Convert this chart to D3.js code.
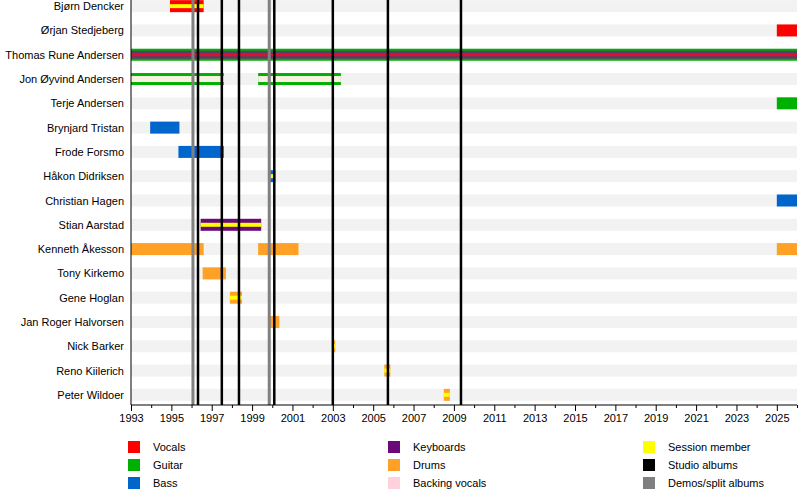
<!DOCTYPE html><html><head><meta charset="utf-8"><script src="https://cdn.jsdelivr.net/npm/d3@7"></script>
<style>body{margin:0;background:#fff}text{font-family:"Liberation Sans",Arial,sans-serif;font-size:11px}</style></head><body><svg width="800" height="500"></svg><script>
const members=["Bjørn Dencker","Ørjan Stedjeberg","Thomas Rune Andersen","Jon Øyvind Andersen","Terje Andersen","Brynjard Tristan","Frode Forsmo","Håkon Didriksen","Christian Hagen","Stian Aarstad","Kenneth Åkesson","Tony Kirkemo","Gene Hoglan","Jan Roger Halvorsen","Nick Barker","Reno Kiilerich","Peter Wildoer"];
const periods=[
["Bjørn Dencker","Vocals",1994.93,1996.6,"session"],
["Ørjan Stedjeberg","Vocals",2025,2026,""],
["Thomas Rune Andersen","Guitar",1993,2026,"thomas"],
["Jon Øyvind Andersen","Guitar",1993,1997.6,"backing"],
["Jon Øyvind Andersen","Guitar",1999.3,2003.4,"backing"],
["Terje Andersen","Guitar",2025,2026,""],
["Brynjard Tristan","Bass",1993.95,1995.4,""],
["Frode Forsmo","Bass",1995.35,1997.6,""],
["Håkon Didriksen","Bass",1999.9,2000.15,"session"],
["Christian Hagen","Bass",2025,2026,""],
["Stian Aarstad","Keyboards",1996.45,1999.45,"session"],
["Kenneth Åkesson","Drums",1993,1996.6,""],
["Kenneth Åkesson","Drums",1999.3,2001.3,""],
["Kenneth Åkesson","Drums",2025,2026,""],
["Tony Kirkemo","Drums",1996.55,1997.7,""],
["Gene Hoglan","Drums",1997.9,1998.5,"session"],
["Jan Roger Halvorsen","Drums",1999.85,2000.35,""],
["Nick Barker","Drums",2003.0,2003.12,"session"],
["Reno Kiilerich","Drums",2005.55,2005.85,"session"],
["Peter Wildoer","Drums",2008.5,2008.8,"session"]];
const studioAlbums=[1996.32,1997.5,1998.35,2000.1,2003.0,2005.73,2009.35];
const demos=[1996.07,1999.85];
const ticks=d3.range(1993,2026,2);
const roles=[["Vocals","#ff0000"],["Guitar","#00b000"],["Bass","#0066cc"],["Keyboards","#6a0a78"],["Drums","#ffa126"],["Backing vocals","#ffd1dc"],["Session member","#ffff00"],["Studio albums","#000000"],["Demos/split albums","#808080"]];
const col=Object.fromEntries(roles);
const svg=d3.select("svg");
const x=d3.scaleLinear().domain([1993,2026]).range([131,797]);
const y=d3.scaleBand().domain(members).range([-6,407]);
const h=12;
svg.append("g").selectAll("rect").data(members).join("rect").attr("x",131).attr("width",666)
 .attr("y",d=>y(d)+y.bandwidth()/2-h/2).attr("height",h).attr("fill","#f2f2f2");
svg.append("g").selectAll("text").data(members).join("text").attr("x",124).attr("y",d=>y(d)+y.bandwidth()/2+4)
 .attr("text-anchor","end").text(d=>d);
const g=svg.append("g");
periods.forEach(([m,r,s,e,k])=>{
 const cy=y(m)+y.bandwidth()/2, x0=x(s), w=x(e)-x(s);
 if(k==="thomas"){
  g.append("rect").attr("x",x0).attr("width",w).attr("y",cy-6).attr("height",12).attr("fill",col.Guitar);
  g.append("rect").attr("x",x0).attr("width",w).attr("y",cy-4).attr("height",8).attr("fill","#5a3d6a");
  g.append("rect").attr("x",x0).attr("width",w).attr("y",cy-1.5).attr("height",3).attr("fill","#e0102a");
  return;}
 g.append("rect").attr("x",x0).attr("width",w).attr("y",cy-h/2).attr("height",h).attr("fill",col[r]);
 if(k==="session") g.append("rect").attr("x",x0).attr("width",w).attr("y",cy-2).attr("height",4).attr("fill",col["Session member"]);
 if(k==="backing") g.append("rect").attr("x",x0).attr("width",w).attr("y",cy-3).attr("height",6).attr("fill","#f8f0e0");
});
svg.append("g").selectAll("line").data(demos).join("line").attr("x1",d=>x(d)).attr("x2",d=>x(d)).attr("y1",0).attr("y2",405)
 .attr("stroke","#808080").attr("stroke-width",3);
svg.append("g").selectAll("line").data(studioAlbums).join("line").attr("x1",d=>x(d)).attr("x2",d=>x(d)).attr("y1",0).attr("y2",405)
 .attr("stroke","#000").attr("stroke-width",2.5);
svg.append("line").attr("x1",131).attr("x2",131).attr("y1",0).attr("y2",405).attr("stroke","#000");
const ax=svg.append("g").attr("transform","translate(0,405)").call(d3.axisBottom(x).tickValues(d3.range(1993,2027)).tickSize(4).tickFormat(d=>d%2?d:""));
ax.select(".domain").attr("d","M131,0H797");
ax.selectAll(".tick line").attr("y2",d=>d%2?6:3);
ax.selectAll("text").style("font-family","Liberation Sans").style("font-size","11px").attr("dy","0.9em");
const lx=[128,388,643];
const lg=svg.append("g").selectAll("g").data(roles).join("g").attr("transform",(d,i)=>`translate(${lx[Math.floor(i/3)]},${441+(i%3)*18})`);
lg.append("rect").attr("width",12).attr("height",12).attr("fill",d=>d[1]);
lg.append("text").attr("x",25).attr("y",10).text(d=>d[0]);
</script></body></html>
